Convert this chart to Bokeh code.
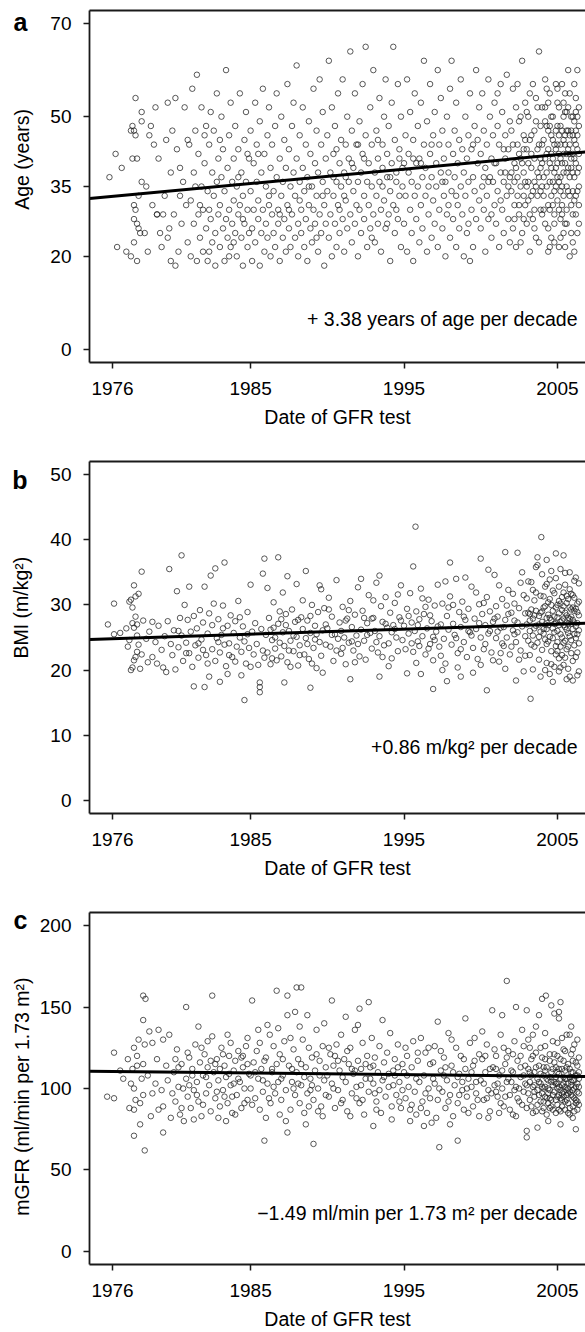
from bokeh.plotting import figure
from bokeh.models import Range1d, FixedTicker, LinearAxis, Label, CustomJSTickFormatter
from bokeh.layouts import column
from bokeh.embed import file_html
from bokeh.resources import INLINE

FONT = "Liberation Sans"

# ---------------- data ----------------
x_ticks = [1976, 1985, 1995, 2005]
age_ticks = [0, 20, 35, 50, 70]
bmi_ticks = [0, 10, 20, 30, 40, 50]
gfr_ticks = [0, 50, 100, 150, 200]

age_points = [
(1975.8,37),(1976.2,42),(1976.3,22),(1976.6,39),(1976.9,21),(1977.2,20),(1977.3,48),(1977.4,23),(1977.5,54),(1977.5,46),(1977.6,19),(1977.5,30),(1977.7,26),(1977.2,47),(1977.4,47),(1977.9,51),(1977.9,49),(1977.3,41),(1977.6,41),(1977.9,36),(1977.4,28),(1977.6,27),(1977.8,25),(1977.4,31),(1977.7,33),
(1978.1,25),(1978.3,21),(1978.4,46),(1978.5,48),(1978.2,35),(1978.6,31),(1978.7,44),(1978.8,52),(1978.9,29),(1979.0,41),(1979.1,25),(1979.2,22),(1979.3,29),(1979.4,33),(1979.5,45),(1979.6,53),(1979.7,26),(1979.8,19),(1979.8,38),(1979.9,47),(1980.0,29),(1980.1,54),(1980.1,18),(1980.2,43),(1980.3,21),(1980.4,39),(1980.5,27),(1980.6,36),(1980.7,52),(1980.8,31),(1980.9,23),(1980.9,45),(1978.9,29),(1979.6,24),(1980.4,33),
(1981.0,44),(1981.1,20),(1981.1,32),(1981.2,56),(1981.3,27),(1981.3,38),(1981.4,47),(1981.5,19),(1981.5,59),(1981.6,29),(1981.6,42),(1981.7,24),(1981.8,35),(1981.8,52),(1981.9,21),(1981.9,30),(1982.0,40),(1982.0,46),(1982.1,26),(1982.2,34),(1982.2,19),(1982.3,30),(1982.3,44),(1982.4,28),(1982.4,51),(1982.5,38),(1982.5,23),(1982.6,33),(1982.6,47),(1982.7,25),(1982.7,18),(1982.8,36),(1982.8,55),(1982.9,29),(1982.9,41),(1983.0,22),(1983.0,31),(1983.1,37),(1983.1,50),(1983.2,26),(1983.2,43),(1983.3,19),(1983.3,34),(1983.4,28),(1983.4,60),(1983.5,24),(1983.5,39),(1983.6,46),(1983.6,30),(1983.7,53),(1983.7,22),(1983.8,36),(1983.8,27),(1983.9,41),(1983.9,32),(1984.0,25),(1984.0,48),(1984.1,35),(1984.1,20),(1984.2,29),(1984.2,43),(1984.3,31),(1984.3,55),(1984.4,24),(1984.4,38),(1984.5,18),(1984.5,33),(1984.6,45),(1984.6,27),(1984.7,36),(1984.7,51),(1984.8,22),(1984.8,30),(1984.9,41),(1984.9,25),(1982.1,48),(1981.4,35),(1983.6,20),(1984.2,37),(1983.0,45),(1982.3,21),(1981.7,31),(1984.8,42),(1984.5,28),(1983.9,23),
(1985.0,34),(1985.0,47),(1985.1,26),(1985.1,19),(1985.2,40),(1985.2,30),(1985.3,53),(1985.3,23),(1985.4,36),(1985.4,44),(1985.5,28),(1985.5,32),(1985.6,18),(1985.6,49),(1985.7,25),(1985.7,38),(1985.8,30),(1985.8,56),(1985.9,21),(1985.9,42),(1986.0,27),(1986.0,35),(1986.1,46),(1986.1,24),(1986.2,31),(1986.2,52),(1986.3,20),(1986.3,39),(1986.4,29),(1986.4,44),(1986.5,25),(1986.5,34),(1986.6,48),(1986.6,22),(1986.7,37),(1986.7,55),(1986.8,30),(1986.8,27),(1986.9,41),(1986.9,19),(1987.0,33),(1987.0,50),(1987.1,24),(1987.1,36),(1987.2,45),(1987.2,28),(1987.3,21),(1987.3,39),(1987.4,57),(1987.4,31),(1987.5,26),(1987.5,43),(1987.6,35),(1987.6,22),(1987.7,48),(1987.7,29),(1987.8,38),(1987.8,53),(1987.9,24),(1987.9,33),(1988.0,61),(1988.0,41),(1988.1,27),(1988.1,20),(1988.2,36),(1988.2,46),(1988.3,30),(1988.3,25),(1988.4,52),(1988.4,39),(1988.5,22),(1988.5,34),(1988.6,44),(1988.6,28),(1988.7,19),(1988.7,37),(1988.8,49),(1988.8,31),(1988.9,26),(1988.9,42),(1989.0,35),(1989.0,23),(1989.1,56),(1989.1,30),(1989.2,40),(1989.2,27),(1989.3,47),(1989.3,33),(1989.4,21),(1989.4,38),(1989.5,58),(1989.5,29),(1989.6,44),(1989.6,25),(1989.7,36),(1989.7,51),(1989.8,31),(1989.8,18),(1989.9,41),(1989.9,27),(1986.2,33),(1987.5,30),(1988.8,35),(1989.3,24),(1985.5,42),(1986.9,29),(1988.2,32),(1989.7,33),
(1990.0,34),(1990.0,46),(1990.1,24),(1990.1,62),(1990.2,38),(1990.2,29),(1990.3,52),(1990.3,20),(1990.4,42),(1990.4,33),(1990.5,27),(1990.5,48),(1990.6,36),(1990.6,22),(1990.7,55),(1990.7,31),(1990.8,40),(1990.8,25),(1990.9,45),(1990.9,35),(1991.0,28),(1991.0,58),(1991.1,38),(1991.1,21),(1991.2,44),(1991.2,32),(1991.3,50),(1991.3,26),(1991.4,36),(1991.4,41),(1991.5,64),(1991.5,29),(1991.6,23),(1991.6,47),(1991.7,34),(1991.7,39),(1991.8,55),(1991.8,27),(1991.9,31),(1991.9,44),(1992.0,36),(1992.0,20),(1992.1,49),(1992.1,30),(1992.2,38),(1992.2,25),(1992.3,42),(1992.3,57),(1992.4,33),(1992.4,28),(1992.5,65),(1992.5,46),(1992.6,22),(1992.6,36),(1992.7,40),(1992.7,31),(1992.8,52),(1992.8,26),(1992.9,35),(1992.9,44),(1993.0,29),(1993.0,60),(1993.1,38),(1993.1,23),(1993.2,47),(1993.2,33),(1993.3,41),(1993.3,27),(1993.4,54),(1993.4,36),(1993.5,30),(1993.5,21),(1993.6,44),(1993.6,39),(1993.7,50),(1993.7,32),(1993.8,26),(1993.8,58),(1993.9,37),(1993.9,42),(1994.0,29),(1994.0,48),(1994.1,34),(1994.1,19),(1994.2,40),(1994.2,53),(1994.3,65),(1994.3,31),(1994.4,25),(1994.4,45),(1994.5,36),(1994.5,38),(1994.6,57),(1994.6,28),(1994.7,43),(1994.7,33),(1994.8,22),(1994.8,50),(1994.9,39),(1994.9,35),(1991.2,37),(1992.4,41),(1993.6,35),(1994.5,30),(1990.8,30),(1992.9,24),(1993.3,45),(1994.1,37),(1991.6,40),(1990.4,37),(1992.0,44),(1993.9,27),(1994.7,41),(1995.0,40),(1991.1,33),(1990.6,43),
(1995.0,27),(1995.1,46),(1995.1,33),(1995.2,58),(1995.2,21),(1995.3,38),(1995.3,42),(1995.4,30),(1995.4,51),(1995.5,25),(1995.5,36),(1995.6,45),(1995.6,19),(1995.7,33),(1995.7,55),(1995.8,40),(1995.8,28),(1995.9,48),(1995.9,35),(1996.0,23),(1996.0,41),(1996.1,31),(1996.1,53),(1996.2,37),(1996.2,26),(1996.3,62),(1996.3,44),(1996.4,33),(1996.4,39),(1996.5,21),(1996.5,49),(1996.6,35),(1996.6,29),(1996.7,57),(1996.7,42),(1996.8,24),(1996.8,37),(1996.9,46),(1996.9,32),(1997.0,27),(1997.0,51),(1997.1,40),(1997.1,35),(1997.2,60),(1997.2,22),(1997.3,44),(1997.3,30),(1997.4,38),(1997.4,54),(1997.5,26),(1997.5,47),(1997.6,33),(1997.6,41),(1997.7,20),(1997.7,36),(1997.8,50),(1997.8,29),(1997.9,44),(1997.9,38),(1998.0,24),(1998.0,56),(1998.1,62),(1998.1,34),(1998.2,42),(1998.2,28),(1998.3,47),(1998.3,37),(1998.4,22),(1998.4,53),(1998.5,31),(1998.5,40),(1998.6,45),(1998.6,26),(1998.7,35),(1998.7,58),(1998.8,29),(1998.8,43),(1998.9,38),(1998.9,20),(1999.0,50),(1999.0,33),(1999.1,41),(1999.1,25),(1999.2,46),(1999.2,36),(1999.3,19),(1999.3,55),(1999.4,30),(1999.4,43),(1999.5,37),(1999.5,22),(1999.6,48),(1999.6,34),(1999.7,60),(1999.7,28),(1999.8,40),(1999.8,45),(1999.9,32),(1999.9,52),(1996.1,40),(1997.5,36),(1998.4,33),(1999.2,27),(1995.6,41),(1996.8,44),(1997.9,31),(1999.5,44),
(2000.0,26),(2000.0,42),(2000.1,35),(2000.1,55),(2000.2,30),(2000.2,47),(2000.3,21),(2000.3,39),(2000.4,44),(2000.4,33),(2000.5,58),(2000.5,28),(2000.6,37),(2000.6,50),(2000.7,24),(2000.7,41),(2000.8,36),(2000.8,46),(2000.9,31),(2000.9,53),(2001.0,27),(2001.0,40),(2001.1,48),(2001.1,34),(2001.2,22),(2001.2,44),(2001.3,38),(2001.3,57),(2001.4,30),(2001.4,51),(2001.5,36),(2001.5,25),(2001.6,46),(2001.6,41),(2001.7,33),(2001.7,59),(2001.8,28),(2001.8,43),(2001.9,37),(2001.9,49),(2000.5,36),(2000.9,40),(2001.3,32),(2001.6,38),(2001.9,23),(2000.2,37),(2000.7,29),(2001.1,55),(2001.5,43),(2001.8,35),
(2002.0,34),(2002.0,47),(2002.1,26),(2002.1,56),(2002.2,40),(2002.2,31),(2002.3,52),(2002.3,22),(2002.4,44),(2002.4,37),(2002.5,29),(2002.5,49),(2002.6,35),(2002.6,41),(2002.7,62),(2002.7,25),(2002.8,46),(2002.8,38),(2002.9,31),(2002.9,53),(2003.0,43),(2003.0,27),(2003.1,36),(2003.1,50),(2003.2,21),(2003.2,45),(2003.3,39),(2003.3,33),(2003.4,57),(2003.4,28),(2003.5,47),(2003.5,41),(2003.6,35),(2003.6,24),(2003.7,52),(2003.7,38),(2003.8,64),(2003.8,44),(2003.9,30),(2003.9,48),(2002.2,36),(2002.5,42),(2002.8,28),(2003.1,40),(2003.4,34),(2003.7,43),(2002.3,39),(2002.6,50),(2002.9,36),(2003.2,55),(2003.5,30),(2003.8,37),(2002.1,44),(2002.4,33),(2002.7,40),(2003.0,35),(2003.3,46),(2003.6,49),(2003.9,41),(2002.0,38),(2002.9,45),(2003.5,26),(2003.8,23),(2002.6,23),(2003.2,29),(2002.4,57),(2003.0,51),(2003.6,54),(2002.8,33),(2003.9,34),
(2004.0,40),(2004.0,52),(2004.1,33),(2004.1,45),(2004.2,27),(2004.2,58),(2004.3,38),(2004.3,48),(2004.4,43),(2004.4,31),(2004.5,55),(2004.5,36),(2004.6,24),(2004.6,46),(2004.7,41),(2004.7,50),(2004.8,34),(2004.8,29),(2004.9,47),(2004.9,39),(2005.0,53),(2005.0,44),(2005.1,36),(2005.1,22),(2005.2,48),(2005.2,41),(2005.3,31),(2005.3,57),(2005.4,45),(2005.4,38),(2005.5,27),(2005.5,51),(2005.6,42),(2005.6,35),(2005.7,47),(2005.7,60),(2005.8,33),(2005.8,44),(2005.9,39),(2005.9,25),(2006.0,50),(2006.0,46),(2006.1,37),(2006.1,41),(2006.2,29),(2006.2,54),(2006.3,60),(2006.3,43),(2006.4,35),(2006.4,48),(2004.1,37),(2004.3,42),(2004.5,40),(2004.7,36),(2004.9,43),(2005.1,46),(2005.3,40),(2005.5,44),(2005.7,39),(2005.9,47),(2006.1,45),(2006.3,38),(2004.2,49),(2004.4,53),(2004.6,39),(2004.8,44),(2005.0,48),(2005.2,34),(2005.4,50),(2005.6,47),(2005.8,42),(2006.0,34),(2006.2,47),(2006.4,42),(2004.0,35),(2004.4,21),(2004.8,23),(2005.2,28),(2005.6,30),(2006.0,23),(2006.4,27),(2004.6,33),(2005.0,32),(2005.4,25),(2005.8,20),(2006.2,33),(2004.3,56),(2004.9,57),(2005.5,55),(2006.1,57),(2004.5,48),(2005.1,52),(2005.7,52),(2006.3,50),
(2002.2,28),(2002.5,31),(2002.8,43),(2003.1,32),(2003.3,42),(2003.5,36),(2003.7,33),(2003.9,39),(2004.0,44),(2004.1,30),(2004.2,41),(2004.3,35),(2004.4,47),(2004.5,30),(2004.6,42),(2004.7,45),(2004.8,38),(2004.9,35),(2005.0,40),(2005.0,37),(2005.1,42),(2005.1,30),(2005.2,44),(2005.2,37),(2005.3,47),(2005.3,35),(2005.4,42),(2005.4,33),(2005.5,46),(2005.5,40),(2005.6,38),(2005.6,51),(2005.7,43),(2005.7,34),(2005.8,46),(2005.8,37),(2005.9,41),(2005.9,50),(2006.0,38),(2006.0,42),(2006.1,32),(2006.1,49),(2006.2,40),(2006.2,44),(2006.3,46),(2006.3,34),(2006.4,39),(2006.4,52),(2004.2,52),(2004.6,50),(2005.0,56),(2005.4,53),(2005.8,55),(2006.2,51),(2004.4,26),(2004.8,27),(2005.2,24),(2005.6,27),(2006.0,29),(2006.4,31),(2004.0,29),(2004.7,31),(2005.3,29),(2005.9,31),(2006.3,25),(2004.5,22),(2005.5,22),(2006.1,21),
]

bmi_points = [
(1975.7,27.0),(1976.1,30.2),(1976.1,25.5),(1976.5,25.7),(1976.9,26.4),(1977.0,23.6),(1977.1,30.5),(1977.1,24.6),(1977.2,30.8),(1977.2,20.0),(1977.3,29.6),(1977.3,27.2),(1977.3,20.4),(1977.4,33.0),(1977.4,26.5),(1977.4,21.5),(1977.5,31.3),(1977.5,28.2),(1977.5,22.0),(1977.6,27.0),(1977.6,22.8),(1977.6,25.3),(1977.7,31.7),(1977.7,23.9),(1977.8,20.2),(1977.9,35.1),(1977.9,22.4),(1978.0,27.6),(1978.2,24.8),(1978.3,21.2),(1978.4,25.9),(1978.6,22.0),(1978.6,27.4),(1978.8,24.3),(1978.9,21.0),(1979.0,26.8),(1979.2,23.1),(1979.3,20.4),(1979.4,25.2),(1979.6,27.5),(1979.7,35.5),(1979.8,24.0),(1979.9,22.3),(1979.5,19.7),
(1980.0,26.1),(1980.1,20.1),(1980.2,32.1),(1980.3,23.5),(1980.4,28.0),(1980.5,37.6),(1980.5,25.3),(1980.6,21.4),(1980.7,30.0),(1980.8,24.2),(1980.9,27.7),(1981.0,32.8),(1981.0,22.6),(1981.1,25.9),(1981.2,20.5),(1981.3,17.5),(1981.3,28.3),(1981.4,23.8),(1981.5,26.4),(1981.6,21.9),(1981.7,29.2),(1981.8,24.7),(1981.9,27.3),(1982.0,32.8),(1982.0,17.4),(1982.1,22.3),(1982.2,25.6),(1982.3,19.0),(1982.3,28.7),(1982.4,34.5),(1982.5,23.2),(1982.5,26.9),(1982.6,30.2),(1982.7,35.6),(1982.7,21.4),(1982.8,24.9),(1982.9,27.8),(1983.0,18.2),(1983.0,22.7),(1983.1,25.4),(1983.2,29.9),(1983.3,36.5),(1983.3,23.9),(1983.4,20.6),(1983.5,19.4),(1983.5,26.8),(1983.6,24.1),(1983.7,28.4),(1983.8,22.0),(1983.9,25.7),(1984.0,27.5),(1984.0,21.3),(1984.1,23.6),(1984.2,30.6),(1984.3,25.0),(1984.4,19.2),(1984.4,22.8),(1984.5,26.7),(1984.6,15.4),(1984.6,24.4),(1984.7,21.0),(1984.8,28.9),(1984.9,23.4),(1985.0,33.1),(1985.0,20.5),(1985.1,25.9),(1985.2,22.4),(1985.3,27.2),(1985.4,24.0),(1985.5,20.8),(1985.6,18.1),(1985.6,16.6),(1985.6,17.4),(1985.7,26.3),(1985.8,34.8),(1985.8,23.0),(1985.9,37.1),(1985.9,21.9),(1980.8,22.6),(1981.6,24.1),(1982.2,21.0),(1983.6,22.3),(1984.3,28.1),(1981.9,23.1),(1983.2,26.4),(1984.8,25.5),(1982.9,24.3),(1980.3,26.0),
(1986.0,25.4),(1986.1,22.7),(1986.2,28.0),(1986.3,20.9),(1986.4,24.6),(1986.5,30.4),(1986.5,26.5),(1986.6,23.3),(1986.7,21.5),(1986.8,37.3),(1986.8,27.1),(1986.9,24.2),(1987.0,22.1),(1987.1,31.9),(1987.1,25.8),(1987.2,18.1),(1987.2,23.7),(1987.3,28.6),(1987.4,34.4),(1987.4,21.2),(1987.5,26.0),(1987.6,24.5),(1987.7,29.3),(1987.8,22.9),(1987.9,27.4),(1988.0,25.1),(1988.0,33.2),(1988.1,20.7),(1988.2,23.8),(1988.3,28.1),(1988.4,26.3),(1988.5,22.4),(1988.6,35.2),(1988.6,24.9),(1988.7,27.6),(1988.8,21.7),(1988.9,17.3),(1988.9,25.7),(1989.0,30.0),(1989.1,23.4),(1989.2,26.8),(1989.3,20.3),(1989.4,28.9),(1989.5,24.3),(1989.6,32.4),(1989.6,22.2),(1989.7,26.1),(1989.8,29.5),(1989.9,23.9),(1986.3,26.2),(1986.9,29.0),(1987.5,23.0),(1988.1,27.7),(1988.7,24.0),(1989.3,25.5),(1989.9,27.0),(1986.6,25.0),(1987.3,26.9),(1988.4,30.7),(1989.0,21.0),(1989.5,33.0),(1986.1,32.6),(1987.8,25.3),(1988.9,28.3),(1989.2,24.7),(1986.4,21.8),(1987.0,27.8),(1988.2,22.3),(1989.7,19.6),(1987.6,20.5),
(1990.0,26.4),(1990.1,31.1),(1990.2,23.6),(1990.3,28.2),(1990.4,21.4),(1990.5,25.5),(1990.6,33.8),(1990.7,24.8),(1990.8,27.3),(1990.9,22.5),(1991.0,29.7),(1991.1,25.0),(1991.2,20.9),(1991.3,27.9),(1991.4,24.2),(1991.5,18.6),(1991.5,30.6),(1991.6,26.6),(1991.7,23.0),(1991.8,28.5),(1991.9,25.3),(1992.0,32.7),(1992.1,22.1),(1992.2,26.2),(1992.3,29.1),(1992.4,24.5),(1992.5,21.6),(1992.6,27.2),(1992.7,31.5),(1992.8,25.7),(1992.9,23.3),(1993.0,28.0),(1993.1,26.0),(1993.2,33.4),(1993.3,22.7),(1993.4,19.0),(1993.4,25.2),(1993.5,29.8),(1993.6,27.4),(1993.7,23.8),(1993.8,31.2),(1993.9,26.5),(1994.0,24.1),(1994.1,28.8),(1994.2,21.8),(1994.3,26.9),(1994.4,30.3),(1994.5,25.0),(1994.6,22.9),(1994.7,28.1),(1994.8,33.0),(1994.9,24.6),(1990.3,25.4),(1990.9,26.0),(1991.4,29.2),(1992.0,24.0),(1992.6,25.4),(1993.2,24.3),(1993.8,27.1),(1994.4,26.3),(1990.6,23.0),(1991.2,27.6),(1991.8,21.2),(1992.4,28.0),(1993.0,30.7),(1993.6,22.0),(1994.2,25.8),(1994.8,27.6),(1990.1,29.3),(1991.0,23.4),(1992.2,34.0),(1993.4,34.5),(1994.6,31.6),(1991.6,24.4),(1992.9,27.9),(1994.0,20.6),
(1995.0,26.8),(1995.1,23.2),(1995.2,19.5),(1995.2,29.4),(1995.3,25.6),(1995.4,31.8),(1995.5,27.3),(1995.6,35.9),(1995.6,22.8),(1995.7,26.0),(1995.75,42.0),(1995.8,29.0),(1995.9,24.4),(1996.0,27.8),(1996.1,19.4),(1996.1,32.5),(1996.2,25.2),(1996.3,28.6),(1996.4,22.4),(1996.5,26.4),(1996.6,30.8),(1996.7,24.0),(1996.8,27.5),(1996.9,17.1),(1996.9,21.5),(1997.0,29.9),(1997.1,25.9),(1997.2,33.1),(1997.3,23.6),(1997.4,27.0),(1997.5,30.2),(1997.6,24.8),(1997.7,21.0),(1997.8,18.3),(1997.8,28.3),(1997.9,26.2),(1998.0,31.3),(1998.1,23.9),(1998.2,27.1),(1998.3,25.4),(1998.4,34.0),(1998.5,22.6),(1998.6,28.9),(1998.7,19.0),(1998.7,26.6),(1998.8,30.5),(1998.9,24.3),(1999.0,27.7),(1999.1,22.0),(1999.2,29.4),(1999.3,25.8),(1999.4,32.8),(1999.5,23.4),(1999.6,27.9),(1999.7,26.3),(1999.8,21.7),(1999.9,30.1),(2000.0,37.1),(2000.0,25.0),(1995.3,28.3),(1995.9,26.9),(1996.4,29.7),(1996.9,25.1),(1997.4,22.2),(1997.9,29.6),(1998.4,24.9),(1998.9,28.2),(1999.4,25.3),(1999.9,27.2),(1995.5,24.1),(1996.2,31.0),(1996.7,28.4),(1997.2,26.7),(1997.7,33.6),(1998.2,30.0),(1998.7,23.2),(1999.2,26.0),(1999.7,31.9),(1995.8,21.1),(1996.6,23.3),(1997.5,20.0),(1998.5,20.4),(1999.5,19.6),(1999.0,34.2),(1998.0,36.5),(1997.0,24.6),(1996.0,23.7),
(2000.1,28.6),(2000.2,23.2),(2000.3,26.9),(2000.4,16.9),(2000.4,31.2),(2000.5,25.6),(2000.6,29.0),(2000.7,22.7),(2000.8,27.4),(2000.9,34.6),(2001.0,24.9),(2001.1,28.2),(2001.2,21.3),(2001.3,26.5),(2001.4,30.9),(2001.5,23.7),(2001.6,38.1),(2001.6,27.7),(2001.7,25.0),(2001.8,32.3),(2001.9,22.4),(2002.0,28.8),(2002.1,26.1),(2002.2,30.2),(2002.3,18.4),(2002.3,24.3),(2002.4,38.0),(2002.4,27.3),(2002.5,29.5),(2002.6,23.0),(2002.7,26.7),(2002.8,31.5),(2002.9,25.2),(2000.2,30.3),(2000.6,26.0),(2001.0,29.8),(2001.4,24.1),(2001.8,28.6),(2002.2,25.5),(2002.6,33.4),(2000.3,24.0),(2000.8,21.5),(2001.2,33.0),(2001.6,20.2),(2002.0,23.6),(2002.5,21.6),(2002.9,28.7),(2000.5,35.4),(2001.1,25.9),(2001.7,29.9),(2002.1,31.7),(2002.7,35.0),(2000.9,27.9),(2001.5,26.6),(2002.4,25.8),(2002.8,19.8),(2000.0,20.8),(2001.3,22.6),(2002.2,27.6),(2002.9,22.2),
(2003.0,27.0),(2003.0,31.0),(2003.1,24.5),(2003.1,28.8),(2003.2,22.3),(2003.2,26.0),(2003.25,15.6),(2003.3,33.5),(2003.3,29.3),(2003.4,25.3),(2003.4,27.9),(2003.5,23.6),(2003.5,30.7),(2003.6,26.8),(2003.6,35.8),(2003.7,37.3),(2003.7,24.2),(2003.7,36.1),(2003.8,28.3),(2003.8,21.6),(2003.9,25.9),(2003.9,31.4),(2003.95,40.4),(2004.0,27.4),(2004.0,23.1),(2004.1,29.6),(2004.1,26.3),(2004.2,32.8),(2004.2,24.7),(2004.3,36.9),(2004.3,28.0),(2004.3,21.1),(2004.4,26.9),(2004.4,30.4),(2004.5,25.1),(2004.5,33.9),(2004.6,27.7),(2004.6,22.9),(2004.7,18.2),(2004.7,29.1),(2004.8,25.8),(2004.8,31.8),(2004.9,37.9),(2004.9,27.2),(2004.9,23.7),(2005.0,30.0),(2005.0,26.0),(2005.1,28.7),(2005.1,21.8),(2005.2,35.5),(2005.2,25.5),(2005.3,31.2),(2005.3,27.6),(2005.4,37.6),(2005.4,24.2),(2005.4,29.8),(2005.5,26.6),(2005.5,33.1),(2005.6,18.6),(2005.6,28.4),(2005.6,23.2),(2005.7,30.9),(2005.7,25.7),(2005.8,27.9),(2005.8,32.4),(2005.9,24.6),(2005.9,29.3),(2006.0,26.3),(2006.0,21.4),(2006.1,31.1),(2006.1,27.3),(2006.2,24.9),(2006.2,34.2),(2006.3,28.9),(2006.3,19.2),(2006.4,26.1),(2006.4,30.5),(2003.1,33.6),(2003.4,20.1),(2003.6,31.9),(2003.9,19.0),(2004.2,20.0),(2004.5,19.4),(2004.8,20.5),(2005.1,19.8),(2005.4,20.8),(2005.7,20.2),(2006.0,18.4),(2006.3,22.7),(2003.2,28.6),(2003.5,26.4),(2003.8,27.0),(2004.1,31.3),(2004.4,28.5),(2004.7,26.4),(2005.0,24.3),(2005.3,22.3),(2005.6,31.4),(2005.9,27.1),(2006.2,29.4),(2003.3,23.9),(2003.6,29.1),(2003.9,28.8),(2004.2,27.0),(2004.5,30.9),(2004.8,28.2),(2005.1,32.8),(2005.4,26.9),(2005.7,28.0),(2006.0,29.6),(2006.3,25.5),(2004.0,34.7),(2004.6,35.2),(2005.2,30.2),(2005.8,35.0),(2006.4,33.3),(2004.3,24.0),(2004.9,22.4),(2005.5,21.9),(2006.1,23.8),(2003.4,32.3),(2004.7,32.2),(2005.9,31.7),
(2003.2,27.6),(2003.5,28.4),(2003.8,25.1),(2004.0,29.0),(2004.1,25.6),(2004.2,29.8),(2004.3,26.3),(2004.4,24.4),(2004.5,28.0),(2004.6,30.0),(2004.7,24.9),(2004.8,27.1),(2004.9,29.6),(2005.0,28.1),(2005.0,22.9),(2005.1,26.9),(2005.1,30.6),(2005.2,27.4),(2005.2,23.6),(2005.3,29.2),(2005.3,25.0),(2005.4,27.9),(2005.4,31.9),(2005.5,24.5),(2005.5,28.8),(2005.6,26.2),(2005.6,30.3),(2005.7,27.1),(2005.7,23.6),(2005.8,29.6),(2005.8,25.2),(2005.9,28.2),(2005.9,22.6),(2006.0,27.7),(2006.0,31.5),(2006.1,25.5),(2006.1,29.1),(2006.2,26.7),(2006.2,22.0),(2006.3,30.2),(2006.3,27.2),(2006.4,24.1),(2006.4,28.4),(2004.3,33.2),(2004.9,34.1),(2005.5,34.9),(2006.1,33.7),(2004.6,20.9),(2005.2,20.4),(2005.8,19.0),(2006.4,19.8),
]

gfr_points = [
(1975.65,95),(1976.1,94),(1976.1,122),(1976.5,111),(1976.7,106),(1977.1,88),(1977.3,112),(1977.4,87),(1977.4,71),(1977.4,100),(1977.4,125),(1977.5,93),(1977.6,114),(1977.7,130),(1977.8,78),(1977.8,91),(1977.9,106),(1978.0,157),(1978.0,142),(1978.0,115),(1978.0,96),(1978.1,62),(1978.1,127),(1978.15,155),(1978.4,135),(1978.5,83),(1978.6,97),(1978.6,128),(1979.0,136),(1979.0,87),(1979.2,99),(1979.3,73),(1979.3,130),(1979.3,89),(1979.6,105),(1979.7,133),(1979.8,82),(1977.6,120),(1977.0,118),(1978.3,108),(1978.8,103),(1979.5,114),(1979.9,97),(1978.9,118),(1977.2,103),
(1980.0,110),(1980.1,92),(1980.2,124),(1980.3,101),(1980.4,84),(1980.5,115),(1980.65,80),(1980.8,150),(1980.8,106),(1980.9,95),(1981.0,119),(1981.1,88),(1981.2,112),(1981.3,99),(1981.4,127),(1981.5,104),(1981.6,138),(1981.6,92),(1981.7,116),(1981.8,83),(1981.9,108),(1982.0,121),(1982.1,97),(1982.2,113),(1982.3,102),(1982.4,86),(1982.5,157),(1982.5,132),(1982.6,110),(1982.7,94),(1982.8,118),(1982.9,105),(1983.0,89),(1983.1,125),(1983.2,99),(1983.3,114),(1983.4,107),(1983.5,133),(1983.5,91),(1983.6,120),(1983.7,128),(1983.7,102),(1983.8,85),(1983.9,111),(1984.0,117),(1984.1,96),(1984.2,123),(1984.3,104),(1984.4,88),(1984.5,113),(1984.6,100),(1984.7,126),(1984.8,131),(1984.8,93),(1984.9,109),(1985.1,154),(1980.3,113),(1980.9,122),(1981.5,96),(1982.1,107),(1982.7,115),(1983.3,95),(1983.9,103),(1984.5,120),(1980.6,100),(1981.2,108),(1981.8,125),(1982.4,117),(1983.0,112),(1983.6,109),(1984.2,106),(1984.8,115),(1980.1,118),(1981.0,102),(1981.9,90),(1982.8,98),(1983.8,95),(1984.6,91),(1982.2,129),(1983.2,121),(1984.4,119),(1980.5,88),(1981.3,81),(1982.9,82),(1984.0,84),(1983.4,80),(1985.0,108),
(1985.0,100),(1985.2,116),(1985.3,94),(1985.4,123),(1985.5,106),(1985.6,87),(1985.7,112),(1985.8,98),(1985.9,68),(1986.0,119),(1986.1,139),(1986.1,103),(1986.25,133),(1986.3,91),(1986.4,110),(1986.5,126),(1986.6,97),(1986.7,160),(1986.7,115),(1986.8,104),(1986.9,121),(1987.0,93),(1987.1,108),(1987.2,129),(1987.3,99),(1987.4,157),(1987.4,145),(1987.4,73),(1987.5,114),(1987.6,87),(1987.7,104),(1987.8,124),(1987.9,147),(1987.9,96),(1988.0,162),(1988.0,110),(1988.1,118),(1988.2,91),(1988.3,162),(1988.3,102),(1988.4,130),(1988.5,85),(1988.6,113),(1988.7,145),(1988.7,97),(1988.8,125),(1988.9,106),(1989.0,119),(1989.1,66),(1989.1,93),(1989.2,111),(1989.3,136),(1989.4,100),(1989.5,117),(1989.6,89),(1989.7,126),(1989.8,105),(1989.9,113),(1985.3,110),(1985.9,117),(1986.5,101),(1987.1,118),(1987.7,112),(1988.3,115),(1988.9,99),(1989.5,108),(1985.6,128),(1986.2,94),(1986.9,84),(1987.6,131),(1988.1,103),(1988.8,89),(1989.3,121),(1989.9,96),(1985.1,90),(1985.8,105),(1986.4,112),(1987.0,106),(1987.8,100),(1988.5,107),(1989.0,102),(1989.7,83),(1986.0,82),(1987.3,80),(1988.6,78),(1989.4,86),(1985.5,136),(1986.8,137),(1988.2,138),(1989.8,140),
(1990.0,108),(1990.1,95),(1990.2,121),(1990.3,154),(1990.3,103),(1990.4,114),(1990.5,88),(1990.6,127),(1990.7,99),(1990.8,111),(1990.9,133),(1991.0,93),(1991.1,118),(1991.2,144),(1991.2,104),(1991.3,86),(1991.4,115),(1991.5,125),(1991.6,97),(1991.7,109),(1991.8,136),(1991.9,101),(1992.0,117),(1992.1,149),(1992.1,91),(1992.2,112),(1992.3,128),(1992.4,84),(1992.5,106),(1992.6,120),(1992.7,153),(1992.7,98),(1992.8,113),(1992.9,131),(1993.0,77),(1993.0,103),(1993.1,119),(1993.2,92),(1993.3,110),(1993.4,126),(1993.5,85),(1993.6,142),(1993.6,105),(1993.7,116),(1993.8,95),(1993.9,122),(1994.0,101),(1994.1,134),(1994.2,89),(1994.3,111),(1994.4,118),(1994.5,96),(1994.6,127),(1994.7,104),(1994.8,88),(1994.9,115),(1990.4,100),(1991.0,107),(1991.6,112),(1992.2,102),(1992.8,106),(1993.4,99),(1994.0,109),(1994.6,113),(1990.7,117),(1991.3,123),(1991.9,94),(1992.5,115),(1993.1,97),(1993.7,107),(1994.3,102),(1994.9,99),(1990.1,125),(1990.9,91),(1991.5,83),(1992.3,93),(1993.2,87),(1994.2,81),(1994.7,92),(1990.5,120),(1991.8,111),(1993.0,114),(1994.4,108),(1992.0,139),
(1995.0,110),(1995.1,94),(1995.2,120),(1995.3,101),(1995.4,87),(1995.5,113),(1995.6,129),(1995.7,98),(1995.8,84),(1995.9,117),(1996.0,104),(1996.1,131),(1996.2,92),(1996.3,108),(1996.4,122),(1996.5,85),(1996.6,100),(1996.7,115),(1996.8,79),(1996.9,106),(1997.0,126),(1997.2,141),(1997.2,93),(1997.3,64),(1997.4,111),(1997.5,98),(1997.6,119),(1997.7,88),(1997.8,105),(1997.9,134),(1998.0,96),(1998.1,114),(1998.2,83),(1998.3,102),(1998.4,125),(1998.5,68),(1998.5,91),(1998.6,109),(1998.7,120),(1998.8,99),(1998.9,87),(1999.0,143),(1999.0,112),(1999.1,95),(1999.2,106),(1999.3,128),(1999.4,101),(1999.5,89),(1999.6,117),(1999.7,104),(1999.8,93),(1999.9,121),(1995.2,108),(1995.8,106),(1996.4,97),(1997.0,103),(1997.6,108),(1998.2,110),(1998.8,104),(1999.4,110),(1995.5,90),(1996.1,88),(1996.7,94),(1997.3,100),(1997.9,92),(1998.5,107),(1999.1,100),(1999.7,97),(1995.1,125),(1995.9,122),(1996.6,125),(1997.4,123),(1998.1,130),(1998.9,118),(1999.6,131),(1995.4,80),(1996.3,77),(1997.1,82),(1998.0,78),(1999.2,85),(1999.9,83),(1996.9,116),(1997.7,113),(1998.6,96),(1999.5,114),
(2000.0,105),(2000.1,118),(2000.2,93),(2000.3,110),(2000.4,127),(2000.5,99),(2000.6,86),(2000.75,148),(2000.8,113),(2000.9,102),(2001.0,120),(2001.1,95),(2001.2,108),(2001.3,133),(2001.4,145),(2001.4,100),(2001.5,89),(2001.6,115),(2001.7,166),(2001.7,104),(2001.8,123),(2001.9,96),(2002.0,111),(2002.1,84),(2002.2,129),(2002.3,150),(2002.3,101),(2002.4,117),(2002.5,92),(2002.6,107),(2002.7,136),(2002.8,98),(2002.9,114),(2003.0,148),(2003.0,88),(2003.0,74),(2003.0,70),(2000.2,103),(2000.6,112),(2001.0,98),(2001.4,111),(2001.8,106),(2002.2,99),(2002.6,120),(2002.9,103),(2000.4,94),(2000.9,124),(2001.3,91),(2001.7,119),(2002.1,110),(2002.5,100),(2002.8,126),(2000.1,135),(2000.7,97),(2001.1,103),(2001.6,95),(2002.0,104),(2002.4,94),(2002.8,108),(2000.5,82),(2001.2,85),(2001.9,87),(2002.3,83),(2002.7,90),(2000.3,120),(2001.0,112),(2001.5,125),(2002.1,121),(2002.6,113),
(2003.1,112),(2003.1,97),(2003.2,125),(2003.2,104),(2003.3,89),(2003.3,118),(2003.4,101),(2003.4,133),(2003.5,95),(2003.5,110),(2003.6,86),(2003.6,122),(2003.7,106),(2003.7,99),(2003.8,145),(2003.8,114),(2003.9,92),(2003.9,103),(2004.0,155),(2004.0,119),(2004.0,97),(2004.1,108),(2004.1,88),(2004.2,126),(2004.25,157),(2004.2,101),(2004.3,94),(2004.3,113),(2004.4,105),(2004.4,91),(2004.5,121),(2004.5,99),(2004.6,151),(2004.6,110),(2004.7,96),(2004.7,87),(2004.8,146),(2004.8,116),(2004.9,103),(2004.9,93),(2005.0,128),(2005.0,100),(2005.1,147),(2005.1,143),(2005.1,109),(2005.2,153),(2005.2,94),(2005.2,118),(2005.3,102),(2005.3,89),(2005.4,124),(2005.4,98),(2005.5,111),(2005.5,92),(2005.6,106),(2005.6,133),(2005.7,97),(2005.7,115),(2005.8,133),(2005.8,88),(2005.9,104),(2005.9,121),(2006.0,95),(2006.0,110),(2006.1,127),(2006.1,100),(2006.2,75),(2006.2,91),(2006.3,114),(2006.3,98),(2006.4,106),(2006.4,119),(2003.2,93),(2003.5,102),(2003.8,96),(2004.1,100),(2004.4,97),(2004.7,102),(2005.0,95),(2005.3,97),(2005.6,99),(2005.9,96),(2006.2,101),(2003.3,108),(2003.6,113),(2003.9,109),(2004.2,111),(2004.5,107),(2004.8,104),(2005.1,112),(2005.4,107),(2005.7,103),(2006.0,105),(2006.3,108),(2003.4,85),(2003.7,90),(2004.0,86),(2004.3,84),(2004.6,89),(2004.9,85),(2005.2,86),(2005.5,87),(2005.8,84),(2006.1,86),(2006.4,90),(2003.1,130),(2003.6,138),(2004.2,134),(2004.7,129),(2005.3,131),(2005.9,138),(2006.3,130),(2003.9,125),(2004.5,117),(2005.0,120),(2005.5,123),(2006.0,117),(2003.4,120),(2004.9,113),(2005.8,112),(2006.4,97),(2003.0,102),(2004.4,80),(2005.2,78),(2006.0,82),(2003.7,76),(2004.6,93),(2005.6,93),(2006.2,93),(2004.1,92),(2005.0,90),
(2003.2,110),(2003.5,98),(2003.8,104),(2004.0,101),(2004.1,113),(2004.2,95),(2004.3,106),(2004.4,100),(2004.5,94),(2004.6,104),(2004.7,112),(2004.8,98),(2004.9,107),(2005.0,103),(2005.0,110),(2005.1,96),(2005.1,101),(2005.2,106),(2005.2,99),(2005.3,112),(2005.3,93),(2005.4,103),(2005.4,95),(2005.5,101),(2005.5,106),(2005.6,96),(2005.6,113),(2005.7,100),(2005.7,91),(2005.8,107),(2005.8,98),(2005.9,102),(2005.9,110),(2006.0,99),(2006.0,89),(2006.1,105),(2006.1,94),(2006.2,108),(2006.2,116),(2006.3,103),(2006.3,92),(2006.4,110),(2006.4,101),(2004.2,118),(2004.8,121),(2005.4,117),(2006.0,124),(2004.5,88),(2005.1,87),(2005.7,85),(2006.3,87),
]

# fitted regression lines (end points)
age_fit_x = [1974.5, 2006.83]
age_fit_y = [32.4, 42.4]
bmi_fit_x = [1974.5, 2006.83]
bmi_fit_y = [24.7, 27.2]
gfr_fit_x = [1974.5, 2006.83]
gfr_fit_y = [110.6, 107.3]

# ---------------- layout constants ----------------
X0, X1 = 1974.5, 2006.83
FL, FW, FH, FT = 89, 496, 352, 10
TICK_FS = "19px"
TEXT_FS = "19.5px"
INK = "#1a1a1a"
NBSP = "\u00a0"


def xd(px):
    return X0 + (px - FL) * (X1 - X0) / FW


def make_panel(points, fit_x, fit_y, yticks, y0, y1, letter, letter_c,
               letter_w, ylabel, note, note_c, bottom):
    p = figure(frame_width=FW, frame_height=FH,
               min_border_left=FL, min_border_right=0,
               min_border_top=FT, min_border_bottom=bottom,
               x_range=Range1d(X0, X1), y_range=Range1d(y0, y1),
               output_backend="svg", toolbar_location=None,
               background_fill_color="white", border_fill_color="white")

    def yd(py):
        return y1 - (py - FT) * (y1 - y0) / FH

    p.grid.visible = False
    p.outline_line_color = None

    for ax in (p.xaxis[0], p.yaxis[0]):
        ax.axis_line_color = INK
        ax.axis_line_width = 1.8
        ax.major_tick_line_color = INK
        ax.major_tick_line_width = 1.5
        ax.major_tick_out = 6
        ax.major_tick_in = 0
        ax.minor_tick_line_color = None
        ax.major_label_text_font = FONT
        ax.major_label_text_font_size = TICK_FS
        ax.major_label_text_color = "black"
    p.xaxis.ticker = FixedTicker(ticks=x_ticks)
    p.yaxis.ticker = FixedTicker(ticks=yticks)
    p.xaxis.major_label_standoff = 13
    p.yaxis.major_label_standoff = 12

    p.xaxis.axis_label = "Date of GFR test"
    p.xaxis.axis_label_standoff = 8
    p.xaxis.axis_label_text_font = FONT
    p.xaxis.axis_label_text_font_size = TEXT_FS
    p.xaxis.axis_label_text_font_style = "normal"
    p.xaxis.axis_label_text_color = "black"

    # outer left axis: carries the panel letter and the y title
    ndig = max(len(str(t)) for t in yticks)
    main_w = 6 + 12 + ndig * 0.556 * 19
    outer_start = FL - main_w
    letter_right = 30
    s = int(round(outer_start - letter_right))
    outer = LinearAxis(ticker=FixedTicker(ticks=[yd(letter_c)]),
                       formatter=CustomJSTickFormatter(code="return '%s'" % letter),
                       axis_line_color=None, major_tick_line_color=None,
                       minor_tick_line_color=None, major_tick_out=0,
                       major_tick_in=0, minor_tick_out=0, minor_tick_in=0,
                       major_label_text_font=FONT,
                       major_label_text_font_size="25px",
                       major_label_text_font_style="bold",
                       major_label_text_color="black",
                       major_label_standoff=s,
                       axis_label=ylabel,
                       axis_label_standoff=int(round(letter_right - letter_w - 38)),
                       axis_label_text_font=FONT,
                       axis_label_text_font_size=TEXT_FS,
                       axis_label_text_font_style="normal",
                       axis_label_text_color="black")
    p.add_layout(outer, "left")

    top = LinearAxis(ticker=FixedTicker(ticks=[]), axis_line_color=INK,
                     axis_line_width=1.8, major_tick_out=0, major_tick_in=0,
                     minor_tick_out=0, minor_tick_in=0,
                     major_label_text_font_size="0px", major_label_standoff=0)
    p.add_layout(top, "above")

    xs = [pt[0] for pt in points]
    ys = [pt[1] for pt in points]
    p.scatter(xs, ys, marker="circle", size=5.5, fill_color=None,
              line_color="#222222", line_width=0.75)
    p.line(fit_x, fit_y, line_color="black", line_width=3)

    p.add_layout(Label(x=xd(577), y=yd(note_c), text=note,
                       text_font=FONT, text_font_size=TEXT_FS,
                       text_color="black", text_align="right",
                       text_baseline="middle"))
    return p


pa = make_panel(age_points, age_fit_x, age_fit_y, age_ticks, -2.8, 72.8,
                "a", 21, 14, NBSP * 10 + "Age (years)",
                "+ 3.38 years of age per decade", 318, 89)
pb = make_panel(bmi_points, bmi_fit_x, bmi_fit_y, bmi_ticks, -2.0, 52.0,
                "b", 28, 15, NBSP * 11 + "BMI (m/kg\u00b2)",
                "+0.86 m/kg\u00b2 per decade", 295, 89)
pc = make_panel(gfr_points, gfr_fit_x, gfr_fit_y, gfr_ticks, -8.0, 208.0,
                "c", 17, 14, "mGFR (ml/min per 1.73 m\u00b2)" + NBSP * 3,
                "\u22121.49 ml/min per 1.73 m\u00b2 per decade", 310, 68)

layout = column(pa, pb, pc, spacing=0)

with open("out.html", "w") as f:
    f.write(file_html(layout, INLINE))
